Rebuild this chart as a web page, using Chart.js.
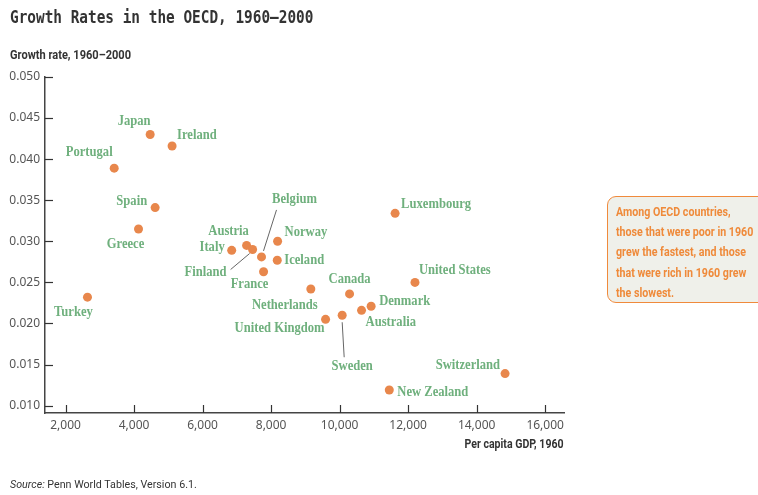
<!DOCTYPE html>
<html lang="en">

<head>
    <meta charset="UTF-8">
    <title>Growth Rates in the OECD, 1960–2000</title>
    <style>
        * {
            margin: 0;
            padding: 0;
            box-sizing: border-box;
        }

        html,
        body {
            width: 758px;
            height: 495px;
            overflow: hidden;
            background: #fff;
        }

        .wrap {
            position: relative;
            width: 758px;
            height: 495px;
        }

        canvas {
            position: absolute;
            left: 0;
            top: 0;
        }

        .title {
            position: absolute;
            left: 10px;
            top: 6px;
            font-family: 'DejaVu Sans Mono', monospace;
            font-weight: bold;
            font-size: 18px;
            color: #333;
            white-space: nowrap;
            transform: scaleX(0.8);
            transform-origin: left top;
        }

        .axis-title {
            position: absolute;
            font-family: 'Roboto', sans-serif;
            font-weight: bold;
            font-size: 12px;
            color: #333;
            white-space: nowrap;
        }

        .note {
            position: absolute;
            left: 607px;
            top: 196px;
            width: 175px;
            height: 107px;
            border: 1.5px solid #f08a3c;
            border-radius: 9px;
            background: #eff0ea;
            padding: 5px 0 0 8px;
            overflow: hidden;
        }

        .note span {
            display: block;
            font-family: 'Roboto', sans-serif;
            font-weight: bold;
            font-size: 13px;
            line-height: 20.2px;
            color: #ef8a3a;
            white-space: nowrap;
            transform: scaleX(0.82);
            transform-origin: left top;
        }

        .source {
            position: absolute;
            left: 10px;
            top: 477px;
            font-family: 'Roboto', sans-serif;
            font-size: 11.5px;
            color: #333;
            white-space: nowrap;
            transform: scaleX(0.93);
            transform-origin: left top;
        }
    </style>
    <script src="https://cdn.jsdelivr.net/npm/chart.js"></script>
</head>

<body>
    <div class="wrap">
        <canvas id="oecdChart" width="758" height="495"></canvas>
        <div class="title">Growth Rates in the OECD, 1960–2000</div>
        <div class="axis-title" style="left:10px; top:48px; transform:scaleX(0.92); transform-origin:left top;">Growth rate, 1960–2000</div>
        <div class="axis-title" style="right:194px; top:437px; transform:scaleX(0.88); transform-origin:right top;">Per capita GDP, 1960</div>
        <div class="note"><span>Among OECD countries,<br>those that were poor in 1960<br>grew the fastest, and those<br>that were rich in 1960 grew<br>the slowest.</span></div>
        <div class="source"><i>Source:</i> Penn World Tables, Version 6.1.</div>
    </div>

    <script>
        // data
        const countries = ['Japan', 'Ireland', 'Portugal', 'Spain', 'Greece', 'Italy', 'Austria', 'Finland',
            'Belgium', 'France', 'Norway', 'Iceland', 'Netherlands', 'Canada', 'United Kingdom', 'Sweden',
            'Australia', 'Denmark', 'United States', 'Luxembourg', 'Switzerland', 'New Zealand', 'Turkey'];
        const gdp1960 = [4470, 5110, 3420, 4615, 4130, 6850, 7285, 7460,
            7720, 7780, 8190, 8180, 9160, 10290, 9590, 10075,
            10640, 10920, 12200, 11620, 14830, 11450, 2640];
        const growthRate = [0.0430, 0.0416, 0.0389, 0.0341, 0.0315, 0.0289, 0.0295, 0.0290,
            0.0281, 0.0263, 0.0300, 0.0277, 0.0242, 0.0236, 0.0205, 0.0210,
            0.0216, 0.0221, 0.0250, 0.0334, 0.0139, 0.0119, 0.0232];
        const xTicks = [2000, 4000, 6000, 8000, 10000, 12000, 14000, 16000];
        const yTicks = [0.010, 0.015, 0.020, 0.025, 0.030, 0.035, 0.040, 0.045, 0.050];

        // label placement relative to each point: [dx, dy, align]
        const labelPlace = {
            'Japan': [-16, -13, 'center'],
            'Ireland': [5, -11, 'left'],
            'Portugal': [-25, -16, 'center'],
            'Spain': [-8, -6, 'right'],
            'Greece': [-13, 15, 'center'],
            'Italy': [-7, -3, 'right'],
            'Austria': [-18, -14, 'center'],
            'Finland': [-26, 23, 'right'],
            'Belgium': [33, -58, 'center'],
            'France': [-14, 13, 'center'],
            'Norway': [7, -9, 'left'],
            'Iceland': [7, 0, 'left'],
            'Netherlands': [-26, 16, 'center'],
            'Canada': [0, -14, 'center'],
            'United Kingdom': [-46, 9, 'center'],
            'Sweden': [10, 51, 'center'],
            'Australia': [4, 12, 'left'],
            'Denmark': [8, -5, 'left'],
            'United States': [4, -12, 'left'],
            'Luxembourg': [6, -9, 'left'],
            'Switzerland': [-5, -8, 'right'],
            'New Zealand': [8, 2, 'left'],
            'Turkey': [-14, 15, 'center']
        };
        // leader lines: [x1, y1, x2, y2] relative to the point
        const leaders = {
            'Belgium': [15, -47, 2, -6],
            'Finland': [-22, 20, -3, 4],
            'Sweden': [0, 7, 2, 42]
        };

        const pointLabels = {
            id: 'pointLabels',
            afterDatasetsDraw(chart) {
                const ctx = chart.ctx;
                const meta = chart.getDatasetMeta(0);
                ctx.save();
                meta.data.forEach((pt, i) => {
                    const name = countries[i];
                    const ld = leaders[name];
                    if (ld) {
                        ctx.strokeStyle = '#666';
                        ctx.lineWidth = 1;
                        ctx.beginPath();
                        ctx.moveTo(pt.x + ld[0], pt.y + ld[1]);
                        ctx.lineTo(pt.x + ld[2], pt.y + ld[3]);
                        ctx.stroke();
                    }
                    const p = labelPlace[name];
                    ctx.save();
                    ctx.translate(pt.x + p[0], pt.y + p[1]);
                    ctx.scale(0.9, 1);
                    ctx.font = 'bold 14px "Liberation Serif"';
                    ctx.fillStyle = '#6fb07d';
                    ctx.textAlign = p[2];
                    ctx.textBaseline = 'middle';
                    ctx.fillText(name, 0, 0);
                    ctx.restore();
                });
                ctx.restore();
            }
        };

        const insideTicks = {
            id: 'insideTicks',
            afterDraw(chart) {
                const { ctx, chartArea, scales } = chart;
                ctx.save();
                ctx.strokeStyle = '#333';
                ctx.lineWidth = 1.2;
                xTicks.forEach(v => {
                    const px = Math.round(scales.x.getPixelForValue(v)) + 0.5;
                    ctx.beginPath();
                    ctx.moveTo(px, chartArea.bottom);
                    ctx.lineTo(px, chartArea.bottom - 8);
                    ctx.stroke();
                });
                yTicks.forEach(v => {
                    const py = Math.round(scales.y.getPixelForValue(v)) + 0.5;
                    ctx.beginPath();
                    ctx.moveTo(chartArea.left, py);
                    ctx.lineTo(chartArea.left + 8, py);
                    ctx.stroke();
                });
                ctx.restore();
            }
        };

        const tickFont = { family: 'Noto Sans', size: 12 };

        new Chart(document.getElementById('oecdChart').getContext('2d'), {
            type: 'scatter',
            data: {
                datasets: [{
                    data: countries.map((c, i) => ({ x: gdp1960[i], y: growthRate[i] })),
                    backgroundColor: '#e8874c',
                    borderWidth: 0,
                    pointRadius: 4.5,
                    pointHoverRadius: 4.5
                }]
            },
            options: {
                responsive: false,
                animation: false,
                layout: { padding: { top: 77, right: 194, left: 0, bottom: 0 } },
                plugins: {
                    legend: { display: false },
                    tooltip: { enabled: false }
                },
                scales: {
                    x: {
                        type: 'linear',
                        min: 1400,
                        max: 16550,
                        grid: { display: false, drawTicks: false },
                        border: { display: true, color: '#444', width: 1.5 },
                        ticks: {
                            font: tickFont,
                            color: '#555',
                            padding: 5,
                            callback: v => v.toLocaleString('en-US')
                        },
                        afterBuildTicks: s => { s.ticks = xTicks.map(v => ({ value: v })); },
                        afterFit: s => { s.height = 82; }
                    },
                    y: {
                        type: 'linear',
                        min: 0.0091,
                        max: 0.050,
                        grid: { display: false, drawTicks: false },
                        border: { display: true, color: '#444', width: 1.5 },
                        ticks: {
                            font: tickFont,
                            color: '#555',
                            padding: 5,
                            callback: v => v.toFixed(3)
                        },
                        afterBuildTicks: s => { s.ticks = yTicks.map(v => ({ value: v })); },
                        afterFit: s => { s.width = 45; }
                    }
                }
            },
            plugins: [pointLabels, insideTicks]
        });
    </script>
</body>

</html>
